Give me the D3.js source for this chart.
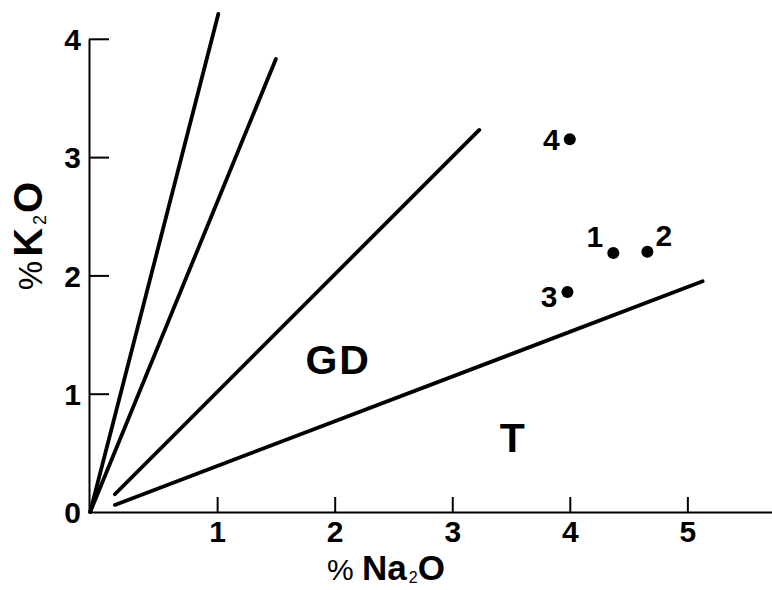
<!DOCTYPE html>
<html>
<head>
<meta charset="utf-8">
<script src="https://cdn.jsdelivr.net/npm/d3@7/dist/d3.min.js"></script>
<style>
  html, body { margin: 0; padding: 0; background: #fff; }
  svg { display: block; font-family: "Liberation Sans", Arial, Helvetica, sans-serif; }
</style>
</head>
<body>
<div id="app"></div>
<script>
// samples
var sampleIds = ['1', '2', '3', '4']
var sampleNa2O = [4.37, 4.66, 3.98, 4.0]
var sampleK2O = [2.19, 2.20, 1.86, 3.15]

// field boundary lines (start / end)
var lineStartNa2O = [-0.08, -0.08, 0.13, 0.13]
var lineStartK2O = [0, 0, 0.15, 0.06]
var lineEndNa2O = [1.01, 1.50, 3.23, 5.13]
var lineEndK2O = [4.21, 3.83, 3.23, 1.95]

// field names
var fieldNames = ['GD', 'T']
var fieldNa2O = [2.03, 3.52]
var fieldK2O = [1.17, 0.51]

var xTicks = [1, 2, 3, 4, 5]
var yTicks = [0, 1, 2, 3, 4]

var width = 772
var height = 590

var svg = d3.select('#app').html('')
	.append('svg')
	  .attr('width', width)
	  .attr('height', height)
	  .attr('viewBox', '0 0 ' + width + ' ' + height)

var x = d3.scaleLinear().domain([-0.09, 5.72]).range([89, 772])
var y = d3.scaleLinear().domain([0, 4]).range([512, 38.8])

// axes
var xAxis = d3.axisBottom(x)
	.tickValues(xTicks)
	.tickFormat(d3.format('d'))
	.tickSize(-15)
	.tickSizeOuter(0)
	.tickPadding(9)

var yAxis = d3.axisLeft(y)
	.tickValues(yTicks)
	.tickFormat(d3.format('d'))
	.tickSize(-20)
	.tickSizeOuter(0)
	.tickPadding(8)

var gx = svg.append('g')
	.attr('transform', 'translate(0,' + y(0) + ')')
	.call(xAxis)

var gy = svg.append('g')
	.attr('transform', 'translate(' + x.range()[0] + ',0)')
	.call(yAxis)

;[gx, gy].forEach(function(g) {
	g.selectAll('.domain').attr('stroke', '#000').attr('stroke-width', 2)
	g.selectAll('.tick line').attr('stroke', '#000').attr('stroke-width', 2)
	g.selectAll('.tick text')
	  .attr('fill', '#000')
	  .attr('font-size', 30)
	  .attr('font-weight', 'bold')
	  .attr('font-family', '"Liberation Sans", Arial, sans-serif')
})
gy.selectAll('.tick').filter(function(d) { return d === 0 }).select('line').remove()
gy.selectAll('.tick text').attr('dy', '0.36em')

// boundary lines
var lines = lineStartNa2O.map(function(d, i) {
	return { x0: d, y0: lineStartK2O[i], x1: lineEndNa2O[i], y1: lineEndK2O[i] }
})

svg.append('g').selectAll('line')
	.data(lines)
  .enter().append('line')
	.attr('x1', function(d) { return x(d.x0) })
	.attr('y1', function(d) { return y(d.y0) })
	.attr('x2', function(d) { return x(d.x1) })
	.attr('y2', function(d) { return y(d.y1) })
	.attr('stroke', '#000')
	.attr('stroke-width', 3.8)
	.attr('stroke-linecap', 'round')

// samples
var samples = sampleIds.map(function(id, i) {
	return { id: id, na: sampleNa2O[i], k: sampleK2O[i] }
})

// label placement relative to dot
var labelOffset = {
	'1': { dx: -10, dy: -6, anchor: 'end' },
	'2': { dx: 8, dy: -6, anchor: 'start' },
	'3': { dx: -10, dy: 15, anchor: 'end' },
	'4': { dx: -10, dy: 11, anchor: 'end' }
}

var gs = svg.append('g')

gs.selectAll('circle')
	.data(samples)
  .enter().append('circle')
	.attr('cx', function(d) { return x(d.na) })
	.attr('cy', function(d) { return y(d.k) })
	.attr('r', 6)
	.attr('fill', '#000')

gs.selectAll('text')
	.data(samples)
  .enter().append('text')
	.attr('x', function(d) { return x(d.na) + labelOffset[d.id].dx })
	.attr('y', function(d) { return y(d.k) + labelOffset[d.id].dy })
	.attr('text-anchor', function(d) { return labelOffset[d.id].anchor })
	.style('font-size', '30px')
	.style('font-weight', 'bold')
	.text(function(d) { return d.id })

// field names
svg.append('g').selectAll('text')
	.data(fieldNames)
  .enter().append('text')
	.attr('x', function(d, i) { return x(fieldNa2O[i]) })
	.attr('y', function(d, i) { return y(fieldK2O[i]) })
	.attr('text-anchor', 'middle')
	.style('font-size', '41px')
	.style('font-weight', 'bold')
	.style('letter-spacing', '2px')
	.text(function(d) { return d })

// axis titles
var xt = svg.append('text')
	.attr('x', 386)
	.attr('y', 580)
	.attr('text-anchor', 'middle')
xt.append('tspan').style('font-size', '30px').text('% ')
xt.append('tspan').style('font-size', '35px').style('font-weight', 'bold').text('Na')
xt.append('tspan').style('font-size', '16px').attr('dy', 3).attr('dx', 2).text('2')
xt.append('tspan').style('font-size', '35px').style('font-weight', 'bold').attr('dy', -3).text('O')

var yt = svg.append('text')
	.attr('transform', 'translate(42,236) rotate(-90)')
	.attr('text-anchor', 'middle')
yt.append('tspan').style('font-size', '33px').text('%')
yt.append('tspan').style('font-size', '40px').style('font-weight', 'bold').attr('dx', 4).text('K')
yt.append('tspan').style('font-size', '18px').attr('dy', 4).attr('dx', 3).text('2')
yt.append('tspan').style('font-size', '40px').style('font-weight', 'bold').attr('dy', -4).attr('dx', 2).text('O')
</script>
</body>
</html>
